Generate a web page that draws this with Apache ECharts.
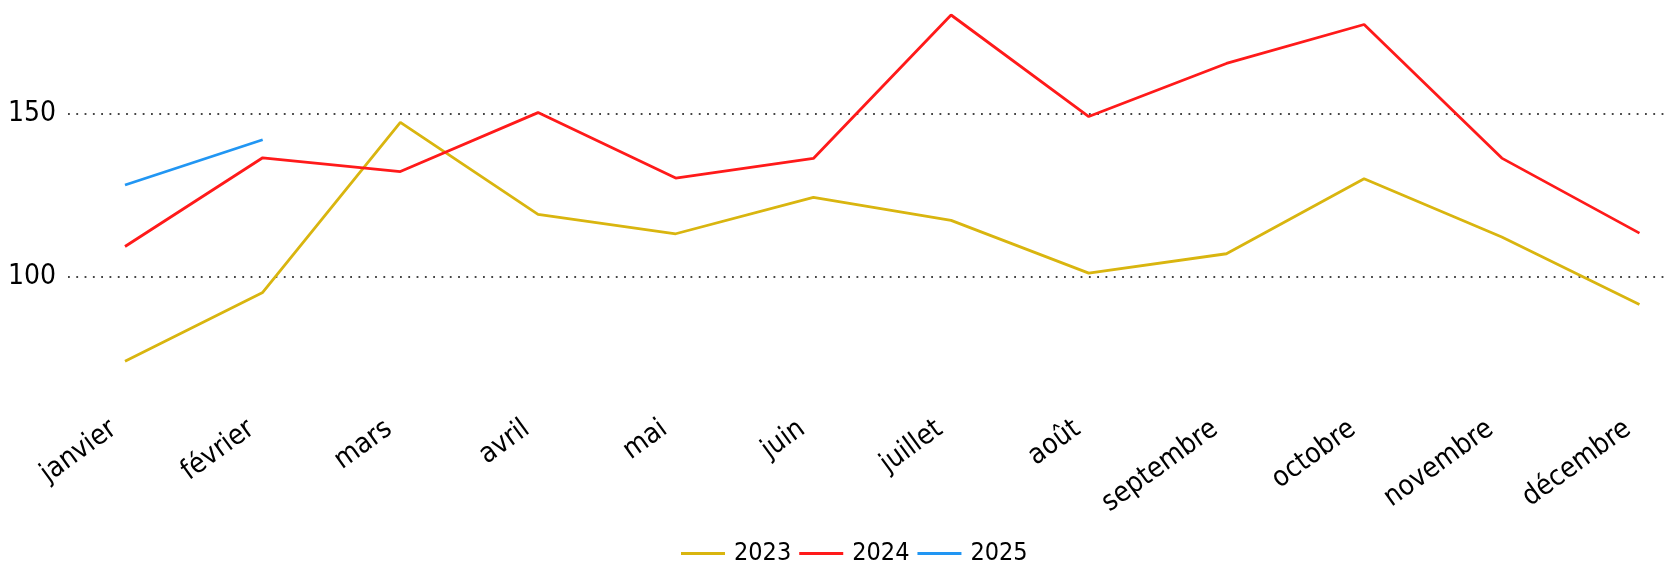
<!DOCTYPE html>
<html>
<head>
<meta charset="utf-8">
<script src="https://cdn.jsdelivr.net/npm/echarts@6/dist/echarts.min.js"></script>
<style>
  html, body { margin: 0; padding: 0; background: #fff; }
  #chart { width: 1670px; height: 563px; }
</style>
</head>
<body>
<div id="chart"></div>
<script>
const months = ['janvier', 'février', 'mars', 'avril', 'mai', 'juin', 'juillet', 'août', 'septembre', 'octobre', 'novembre', 'décembre']
const v2023 = [74.3, 95.3, 147.2, 119.1, 113.2, 124.3, 117.3, 101.2, 107.1, 130, 112.2, 91.6]
const v2024 = [109.3, 136.4, 132.2, 150.2, 130.2, 136.2, 180, 149, 165.2, 177.1, 136.3, 113.4]
const v2025 = [128.1, 141.9]
const yTicks = [100, 150]

const font = '"DejaVu Sans Condensed", "DejaVu Sans", sans-serif'
const toPoints = (arr) => arr.map((v, i) => [i, v])

const line = (name, data, color) => ({
  name,
  type: 'line',
  data: toPoints(data),
  symbol: 'none',
  lineStyle: { color, width: 2.8 },
  itemStyle: { color },
  emphasis: { disabled: true },
})

const chart = echarts.init(document.getElementById('chart'))

chart.setOption({
  animation: false,
  grid: { left: 68, right: 3, top: 15, bottom: 155 },
  legend: {
    left: 676,
    top: 536,
    icon: 'rect',
    itemWidth: 44,
    itemHeight: 3,
    itemGap: 8,
    textStyle: { fontFamily: font, fontSize: 25, color: '#000', padding: [0, 0, 0, 4] },
  },
  xAxis: {
    type: 'value',
    min: -0.414,
    max: 11.2,
    axisLine: { show: false },
    axisTick: { show: false },
    splitLine: { show: false },
    axisLabel: {
      customValues: months.map((m, i) => i),
      formatter: (v) => months[Math.round(v)],
      rotate: 36,
      margin: 10,
      padding: [0, 14, 0, 0],
      fontFamily: font,
      fontSize: 28,
      color: '#000',
    },
  },
  yAxis: {
    type: 'value',
    min: 60,
    max: 180,
    axisLine: { show: false },
    axisTick: { show: false, customValues: yTicks },
    axisLabel: {
      customValues: yTicks,
      margin: 12,
      fontFamily: font,
      fontSize: 28,
      color: '#000',
    },
    splitLine: {
      show: true,
      lineStyle: { color: '#444', width: 1.8, type: [1.8, 6.5] },
    },
  },
  series: [
    line('2023', v2023, '#d9b50f'),
    line('2024', v2024, '#ff1a1a'),
    line('2025', v2025, '#2196f3'),
  ],
})
</script>
</body>
</html>
